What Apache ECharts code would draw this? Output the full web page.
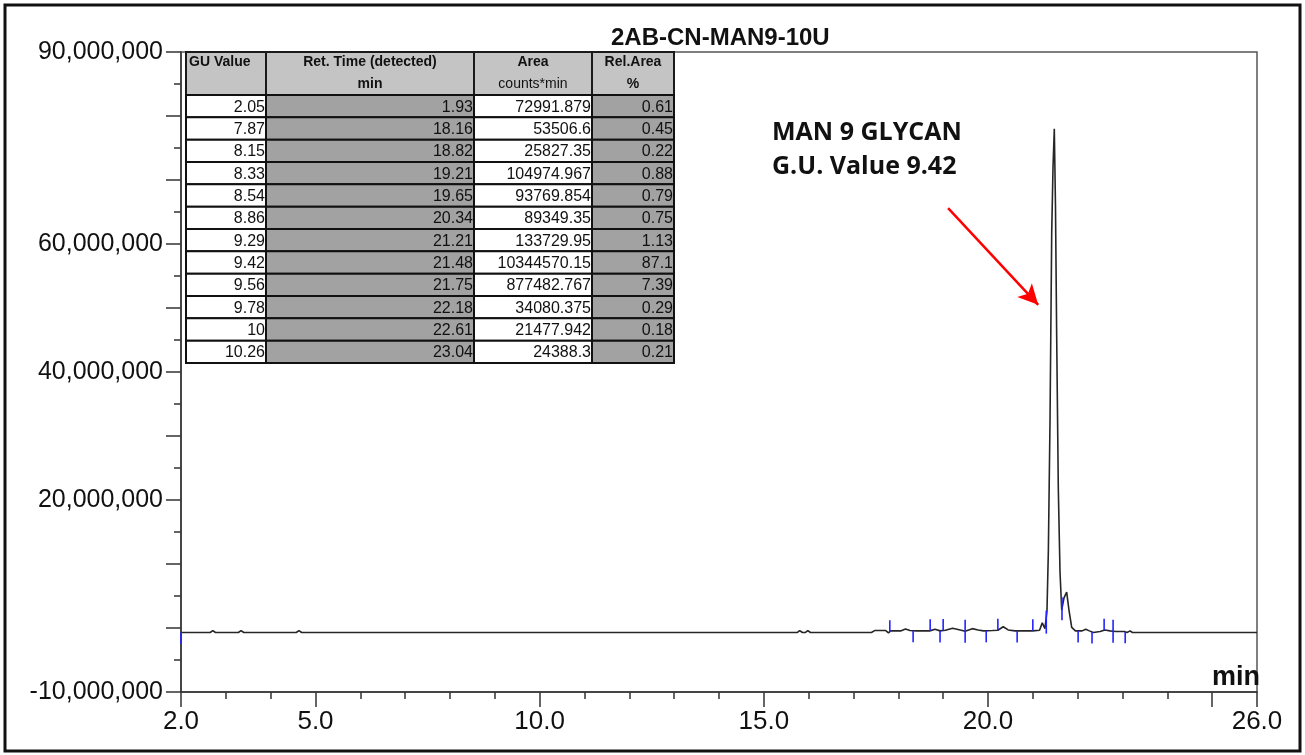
<!DOCTYPE html>
<html>
<head>
<meta charset="utf-8">
<script src="https://cdn.jsdelivr.net/npm/echarts@6/dist/echarts.min.js"></script>
<style>
  html, body { margin: 0; padding: 0; background: #fff; }
  #chart { width: 1305px; height: 755px; }
</style>
</head>
<body>
<div id="chart"></div>
<script>
// axis ticks / labels
const xLabelValues = [2, 5, 10, 15, 20, 26]
const xMajorTicks = [2, 5, 10, 15, 20, 25, 26]
const yLabelValues = [90e6, 60e6, 40e6, 20e6, -10e6]

// chromatogram trace (time in min, signal in counts)
const traceTimes = [
  2.00, 2.65, 2.71, 2.77, 3.28, 3.34, 3.40, 4.57, 4.63, 4.69,
  7.40, 7.44, 7.48, 9.92, 9.96, 10.00, 15.75, 15.80, 15.86, 15.93,
  15.98, 16.04, 17.40, 17.47, 17.72, 17.78, 17.83, 18.05, 18.16, 18.26,
  18.40, 18.70, 18.82, 18.93, 19.05, 19.21, 19.38, 19.49, 19.57, 19.65,
  19.78, 19.90, 20.10, 20.22, 20.34, 20.45, 20.60, 21.00, 21.15, 21.21,
  21.27, 21.29, 21.315, 21.346, 21.384, 21.421, 21.45, 21.479, 21.505, 21.532,
  21.568, 21.606, 21.644, 21.695, 21.755, 21.806, 21.867, 21.95, 22.10, 22.18,
  22.26, 22.35, 22.50, 22.61, 22.72, 22.85, 23.04, 23.10, 23.17, 23.22,
  26.00
]
const traceValues = [
  -0.70e6, -0.70e6, -0.40e6, -0.70e6, -0.70e6, -0.40e6, -0.70e6, -0.70e6, -0.40e6, -0.70e6,
  -0.70e6, -0.45e6, -0.70e6, -0.70e6, -0.45e6, -0.70e6, -0.70e6, -0.40e6, -0.70e6, -0.70e6,
  -0.40e6, -0.70e6, -0.70e6, -0.40e6, -0.40e6, -0.75e6, -0.45e6, -0.45e6, -0.15e6, -0.40e6,
  -0.45e6, -0.45e6, -0.20e6, -0.45e6, -0.35e6, -0.05e6, -0.30e6, -0.50e6, -0.30e6, -0.10e6,
  -0.30e6, -0.45e6, -0.40e6, -0.35e6, 0.20e6, -0.30e6, -0.45e6, -0.45e6, -0.35e6, 0.80e6,
  -0.10e6, -0.20e6, 2.6e6, 11.9e6, 32.8e6, 61.7e6, 72.0e6, 78.0e6, 66.0e6, 45.5e6,
  21.9e6, 8.75e6, 2.8e6, 4.7e6, 5.6e6, 2.8e6, 0.10e6, -0.45e6, -0.45e6, -0.20e6,
  -0.45e6, -0.70e6, -0.55e6, -0.30e6, -0.45e6, -0.55e6, -0.55e6, -0.70e6, -0.45e6, -0.70e6,
  -0.70e6
]

// peak start/end marks: 1 = above trace, -1 = below, 0 = both sides
const markTimes = [2.00, 17.81, 18.33, 18.71, 18.93, 19.00, 19.49, 19.96, 20.22, 20.65, 21.00, 21.30, 21.65, 22.01, 22.32, 22.59, 22.79, 23.06]
const markDirs = [-1, 1, -1, 1, -1, 1, 0, -1, 1, -1, 1, 0, 0, -1, -1, 1, 0, -1]

// annotation arrow (data coords)
const arrowFrom = [19.11, 65.6e6]
const arrowTo = [21.12, 50.5e6]

// peak table
const tableHeader1 = ['GU Value', 'Ret. Time (detected)', 'Area', 'Rel.Area']
const tableHeader2 = ['', 'min', 'counts*min', '%']
const guValues = ['2.05', '7.87', '8.15', '8.33', '8.54', '8.86', '9.29', '9.42', '9.56', '9.78', '10', '10.26']
const retTimes = ['1.93', '18.16', '18.82', '19.21', '19.65', '20.34', '21.21', '21.48', '21.75', '22.18', '22.61', '23.04']
const areas = ['72991.879', '53506.6', '25827.35', '104974.967', '93769.854', '89349.35', '133729.95', '10344570.15', '877482.767', '34080.375', '21477.942', '24388.3']
const relAreas = ['0.61', '0.45', '0.22', '0.88', '0.79', '0.75', '1.13', '87.1', '7.39', '0.29', '0.18', '0.21']

const FONT = 'Liberation Sans, Arial, sans-serif'
const MARK_LEN = 1.8e6

const traceAt = t => {
  for (let i = 1; i < traceTimes.length; i++) {
    if (t <= traceTimes[i]) {
      const t0 = traceTimes[i - 1], t1 = traceTimes[i]
      const f = (t - t0) / (t1 - t0)
      return traceValues[i - 1] + f * (traceValues[i] - traceValues[i - 1])
    }
  }
  return traceValues[traceValues.length - 1]
}

// table graphics
const colX = [186, 266, 474, 592, 674]
const headTop = 52, headBottom = 95, rowH = 22.33
const columns = [guValues, retTimes, areas, relAreas]
const cellFill = ['#ffffff', '#a2a2a2', '#ffffff', '#a2a2a2']
const tableEls = []
for (let c = 0; c < 4; c++) {
  const w = colX[c + 1] - colX[c]
  tableEls.push({
    type: 'rect', shape: { x: colX[c], y: headTop, width: w, height: headBottom - headTop },
    style: { fill: '#c4c4c4', stroke: '#1a1a1a', lineWidth: 2 }
  })
  tableEls.push({
    type: 'text', x: c === 0 ? colX[c] + 3 : colX[c] + w / 2, y: 62,
    style: { text: tableHeader1[c], font: 'bold 14px ' + FONT, fill: '#111', align: c === 0 ? 'left' : 'center', verticalAlign: 'middle' }
  })
  if (tableHeader2[c]) {
    tableEls.push({
      type: 'text', x: colX[c] + w / 2, y: 84,
      style: { text: tableHeader2[c], font: (c === 2 ? '' : 'bold ') + '14px ' + FONT, fill: '#111', align: 'center', verticalAlign: 'middle' }
    })
  }
  columns[c].forEach((v, r) => {
    const y = headBottom + r * rowH
    tableEls.push({
      type: 'rect', shape: { x: colX[c], y: y, width: w, height: rowH },
      style: { fill: cellFill[c], stroke: '#111', lineWidth: 2 }
    })
    tableEls.push({
      type: 'text', x: colX[c + 1] - 1, y: y + rowH / 2 + 1,
      style: { text: v, font: '16px ' + FONT, fill: '#111', align: 'right', verticalAlign: 'middle' }
    })
  })
}

const chart = echarts.init(document.getElementById('chart'))
chart.setOption({
  animation: false,
  backgroundColor: '#fff',
  title: {
    text: '2AB-CN-MAN9-10U',
    left: 606, top: 21,
    textStyle: { fontFamily: FONT, fontSize: 24, fontWeight: 'bold', color: '#111' }
  },
  grid: {
    left: 181, right: 48, top: 52, bottom: 63,
    show: true, borderColor: '#555', borderWidth: 1.5
  },
  xAxis: [
    {
      type: 'value', min: 2, max: 26, interval: 1,
      axisLine: { show: true, onZero: false, lineStyle: { color: '#333', width: 1.5 } },
      axisTick: { show: true, length: 7, lineStyle: { color: '#333', width: 1.5 } },
      axisLabel: {
        customValues: xLabelValues, formatter: v => v.toFixed(1),
        fontFamily: FONT, fontSize: 26, color: '#111', margin: 17
      },
      splitLine: { show: false }
    },
    {
      type: 'value', min: 2, max: 26, position: 'bottom',
      axisLine: { show: false, onZero: false },
      axisTick: { show: true, customValues: xMajorTicks, length: 15, lineStyle: { color: '#333', width: 1.5 } },
      axisLabel: { show: false },
      splitLine: { show: false }
    }
  ],
  yAxis: {
    type: 'value', min: -10e6, max: 90e6, interval: 10e6,
    axisLine: { show: true, onZero: false, lineStyle: { color: '#333', width: 1.5 } },
    axisTick: { show: true, length: 15, lineStyle: { color: '#333', width: 1.5 } },
    minorTick: { show: true, splitNumber: 2, length: 7, lineStyle: { color: '#333', width: 1.5 } },
    axisLabel: {
      customValues: yLabelValues, formatter: v => v.toLocaleString('en-US'),
      fontFamily: FONT, fontSize: 25, color: '#111', margin: 18
    },
    splitLine: { show: false }
  },
  series: [
    {
      type: 'line', xAxisIndex: 0, yAxisIndex: 0,
      data: traceTimes.map((t, i) => [t, traceValues[i]]),
      showSymbol: false, smooth: false, z: 2,
      lineStyle: { color: '#262626', width: 1.6 },
      markLine: {
        silent: true, animation: false,
        symbol: ['none', 'arrow'], symbolSize: [15, 20],
        label: { show: false },
        lineStyle: { color: '#ff0000', width: 2.5, type: 'solid' },
        data: [[{ coord: arrowFrom }, { coord: arrowTo }]]
      }
    },
    {
      type: 'custom', xAxisIndex: 0, yAxisIndex: 0, z: 3,
      data: markTimes.map((t, i) => [t, markDirs[i]]),
      renderItem: (params, api) => {
        const t = api.value(0), dir = api.value(1)
        const base = traceAt(t)
        const lo = dir > 0 ? base : base - MARK_LEN
        const hi = dir < 0 ? base : base + MARK_LEN
        const p1 = api.coord([t, lo]), p2 = api.coord([t, hi])
        return {
          type: 'line',
          shape: { x1: p1[0], y1: p1[1], x2: p2[0], y2: p2[1] },
          style: { stroke: '#2424ff', lineWidth: 1.6 }
        }
      }
    }
  ],
  graphic: [
    {
      type: 'rect', z: 0, silent: true,
      shape: { x: 5, y: 5, width: 1295, height: 746 },
      style: { fill: 'none', stroke: '#111', lineWidth: 3 }
    },
    { type: 'group', z: 100, children: tableEls },
    {
      type: 'text', x: 772, y: 133, z: 100,
      style: { text: 'MAN 9 GLYCAN', font: 'bold 25px "Open Sans", sans-serif', fill: '#111', verticalAlign: 'middle' }
    },
    {
      type: 'text', x: 772, y: 167, z: 100,
      style: { text: 'G.U. Value 9.42', font: 'bold 25px "Open Sans", sans-serif', fill: '#111', verticalAlign: 'middle' }
    },
    {
      type: 'text', x: 1260, y: 678, z: 100,
      style: { text: 'min', font: 'bold 27px ' + FONT, fill: '#111', align: 'right', verticalAlign: 'middle' }
    }
  ]
})
</script>
</body>
</html>
